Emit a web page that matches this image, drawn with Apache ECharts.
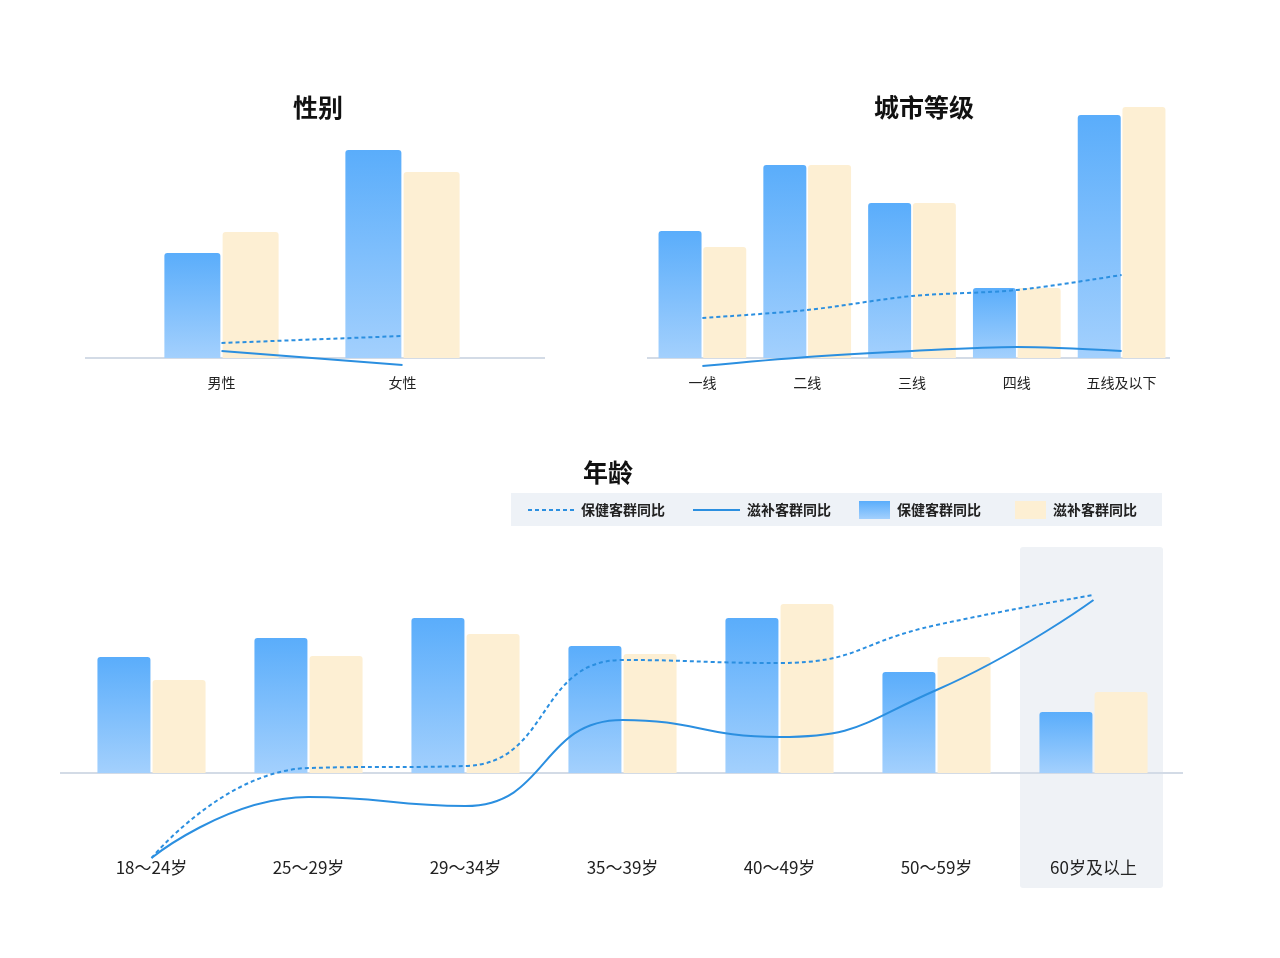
<!DOCTYPE html>
<html><head><meta charset="utf-8">
<script src="https://cdn.jsdelivr.net/npm/echarts@6/dist/echarts.min.js"></script>
<style>html,body{margin:0;background:#fff}#main{width:1280px;height:958px}</style>
</head><body><div id="main"></div>
<script>
var genderCats = ['男性', '女性'];
var genderHealth = [105, 208];
var genderTonic = [126, 186];
var genderHealthYoy = [15, 22];
var genderTonicYoy = [7, -7];

var cityCats = ['一线', '二线', '三线', '四线', '五线及以下'];
var cityHealth = [127, 193, 155, 70, 243];
var cityTonic = [111, 193, 155, 70, 251];
var cityHealthYoy = [40, 48, 62, 68, 83];
var cityTonicYoy = [-8, 1, 7, 11, 7];

var ageCats = ['18～24岁', '25～29岁', '29～34岁', '35～39岁', '40～49岁', '50～59岁', '60岁及以上'];
var ageHealth = [116, 135, 155, 127, 155, 101, 61];
var ageTonic = [93, 117, 139, 119, 169, 116, 81];
var ageHealthYoy = [-85, 5, 7, 113, 110, 148, 178];
var ageTonicYoy = [-85, -24, -33, 53, 36, 83, 173];

var BLUE = new echarts.graphic.LinearGradient(0, 0, 0, 1, [
  {offset: 0, color: '#5aadfb'}, {offset: 1, color: '#a3d0fd'}]);
var BEIGE = '#fdefd3';
var LINE = '#2b8fe0';

var myChart = echarts.init(document.getElementById('main'));

function xAx(i, data) {
  return {type: 'category', gridIndex: i, data: data, axisLine: {show: false}, axisTick: {show: false},
    axisLabel: {margin: 0, color: '#222', fontSize: i == 2 ? 17 : 14, fontFamily: 'Noto Sans CJK SC'}};
}
function yAx(i, min, max) {
  return {type: 'value', gridIndex: i, min: min, max: max, show: false, splitLine: {show: false}};
}
function group(i, h, t, hy, ty, bw, smooth) {
  return [
    {type: 'bar', xAxisIndex: i, yAxisIndex: i, data: h, barWidth: bw, barGap: '4%', itemStyle: {color: BLUE, borderRadius: [3, 3, 0, 0]}},
    {type: 'bar', xAxisIndex: i, yAxisIndex: i, data: t, barWidth: bw, itemStyle: {color: BEIGE, borderRadius: [3, 3, 0, 0]}},
    {type: 'line', xAxisIndex: i, yAxisIndex: i, data: hy, smooth: smooth, symbol: 'none', lineStyle: {color: LINE, width: 2, type: [4, 3]}},
    {type: 'line', xAxisIndex: i, yAxisIndex: i, data: ty, smooth: smooth, symbol: 'none', lineStyle: {color: LINE, width: 2}}
  ];
}

var titleStyle = {fill: '#111', font: 'bold 25px "Noto Sans CJK SC"'};
function axisLine(x1, x2, y) {
  return {type: 'line', shape: {x1: x1, y1: y, x2: x2, y2: y}, style: {stroke: '#d3dbe6', lineWidth: 2}, z: 0};
}
function legTxt(x, s) {
  return {type: 'text', x: x, y: 510, style: {text: s, fill: '#222', font: 'bold 14px "Noto Sans CJK SC"', verticalAlign: 'middle'}};
}

var option = {
  animation: false,
  grid: [
    {left: 131, width: 362, top: 138, bottom: 958 - 376},
    {left: 650, width: 524, top: 98, bottom: 958 - 376},
    {left: 73, width: 1099, top: 553, bottom: 958 - 859}
  ],
  xAxis: [xAx(0, genderCats), xAx(1, cityCats), xAx(2, ageCats)],
  yAxis: [yAx(0, -18, 220), yAx(1, -18, 260), yAx(2, -86, 220)],
  series: [].concat(
    group(0, genderHealth, genderTonic, genderHealthYoy, genderTonicYoy, 56, false),
    group(1, cityHealth, cityTonic, cityHealthYoy, cityTonicYoy, 43, 0.3),
    group(2, ageHealth, ageTonic, ageHealthYoy, ageTonicYoy, 53, 0.5)
  ),
  graphic: [
    {type: 'rect', shape: {x: 1020, y: 547, width: 143, height: 341, r: 3}, style: {fill: '#eff2f6'}, z: -1},
    axisLine(85, 545, 358), axisLine(647, 1170, 358), axisLine(60, 1183, 773),
    {type: 'text', x: 318, y: 107, style: Object.assign({text: '性别', align: 'center', verticalAlign: 'middle'}, titleStyle)},
    {type: 'text', x: 924, y: 107, style: Object.assign({text: '城市等级', align: 'center', verticalAlign: 'middle'}, titleStyle)},
    {type: 'text', x: 608, y: 472, style: Object.assign({text: '年龄', align: 'center', verticalAlign: 'middle'}, titleStyle)},
    {type: 'rect', shape: {x: 511, y: 493, width: 651, height: 33}, style: {fill: '#eef2f7'}},
    {type: 'line', shape: {x1: 528, y1: 510, x2: 575, y2: 510}, style: {stroke: LINE, lineWidth: 2, lineDash: [4, 3]}},
    legTxt(581, '保健客群同比'),
    {type: 'line', shape: {x1: 693, y1: 510, x2: 740, y2: 510}, style: {stroke: LINE, lineWidth: 2}},
    legTxt(747, '滋补客群同比'),
    {type: 'rect', shape: {x: 859, y: 501, width: 31, height: 18}, style: {fill: BLUE}},
    legTxt(897, '保健客群同比'),
    {type: 'rect', shape: {x: 1015, y: 501, width: 31, height: 18}, style: {fill: BEIGE}},
    legTxt(1053, '滋补客群同比')
  ]
};
myChart.setOption(option);
</script></body></html>
